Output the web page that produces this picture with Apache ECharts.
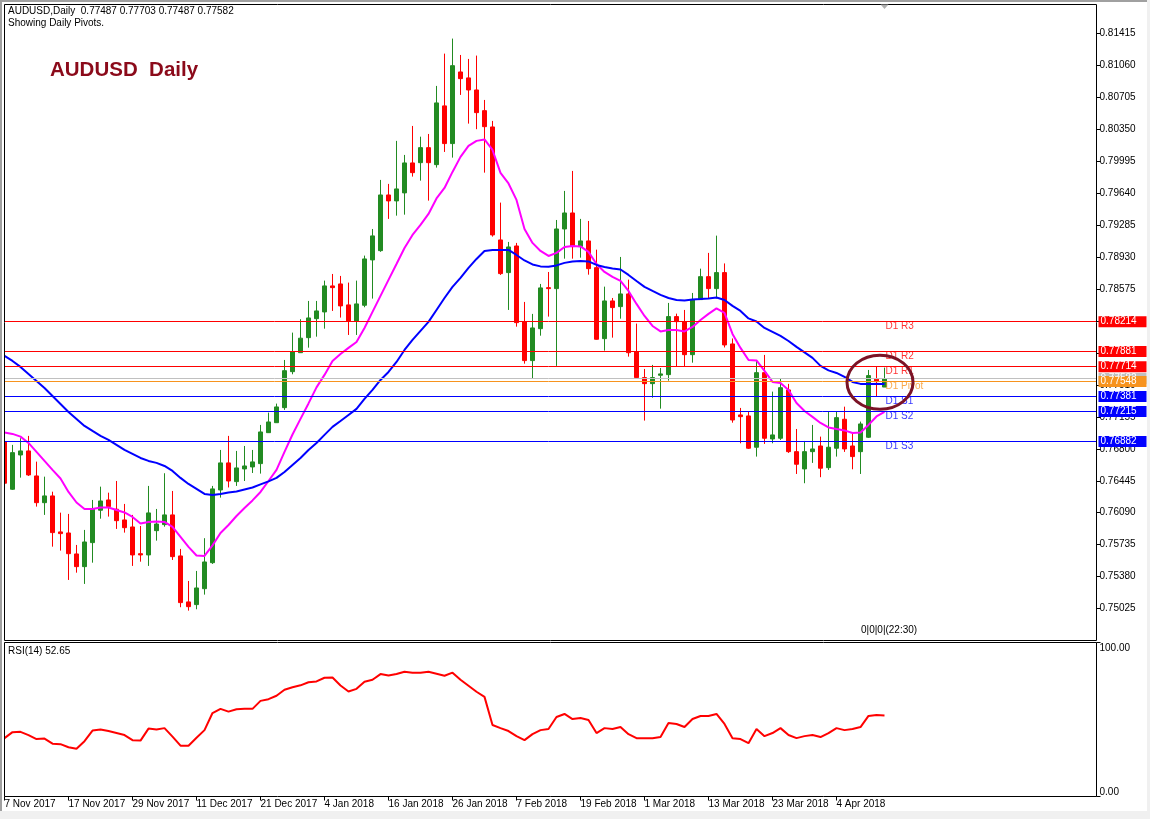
<!DOCTYPE html>
<html><head><meta charset="utf-8">
<script src="https://cdn.jsdelivr.net/npm/echarts/dist/echarts.min.js"></script>
<style>html,body{margin:0;padding:0;background:#fff;overflow:hidden}#c{width:1150px;height:819px}</style>
</head><body><div id="c"></div>
<script>
// ---------------- DATA ----------------
const dates = ["7 Nov 2017","8 Nov 2017","9 Nov 2017","10 Nov 2017","13 Nov 2017","14 Nov 2017","15 Nov 2017","16 Nov 2017","17 Nov 2017","20 Nov 2017","21 Nov 2017","22 Nov 2017","23 Nov 2017","24 Nov 2017","27 Nov 2017","28 Nov 2017","29 Nov 2017","30 Nov 2017","1 Dec 2017","4 Dec 2017","5 Dec 2017","6 Dec 2017","7 Dec 2017","8 Dec 2017","11 Dec 2017","12 Dec 2017","13 Dec 2017","14 Dec 2017","15 Dec 2017","18 Dec 2017","19 Dec 2017","20 Dec 2017","21 Dec 2017","22 Dec 2017","26 Dec 2017","27 Dec 2017","28 Dec 2017","29 Dec 2017","2 Jan 2018","3 Jan 2018","4 Jan 2018","5 Jan 2018","8 Jan 2018","9 Jan 2018","10 Jan 2018","11 Jan 2018","12 Jan 2018","15 Jan 2018","16 Jan 2018","17 Jan 2018","18 Jan 2018","19 Jan 2018","22 Jan 2018","23 Jan 2018","24 Jan 2018","25 Jan 2018","26 Jan 2018","29 Jan 2018","30 Jan 2018","31 Jan 2018","1 Feb 2018","2 Feb 2018","5 Feb 2018","6 Feb 2018","7 Feb 2018","8 Feb 2018","9 Feb 2018","12 Feb 2018","13 Feb 2018","14 Feb 2018","15 Feb 2018","16 Feb 2018","19 Feb 2018","20 Feb 2018","21 Feb 2018","22 Feb 2018","23 Feb 2018","26 Feb 2018","27 Feb 2018","28 Feb 2018","1 Mar 2018","2 Mar 2018","5 Mar 2018","6 Mar 2018","7 Mar 2018","8 Mar 2018","9 Mar 2018","12 Mar 2018","13 Mar 2018","14 Mar 2018","15 Mar 2018","16 Mar 2018","19 Mar 2018","20 Mar 2018","21 Mar 2018","22 Mar 2018","23 Mar 2018","26 Mar 2018","27 Mar 2018","28 Mar 2018","29 Mar 2018","30 Mar 2018","2 Apr 2018","3 Apr 2018","4 Apr 2018","5 Apr 2018","6 Apr 2018","9 Apr 2018","10 Apr 2018","11 Apr 2018","12 Apr 2018"];

const openP = [0.76880,0.76351,0.76732,0.76777,0.76499,0.76202,0.76277,0.75877,0.75865,0.75632,
0.75491,0.75758,0.76118,0.76232,0.76129,0.76010,0.75932,0.75635,0.75621,0.75891,
0.75958,0.76066,0.75610,0.75099,0.75069,0.75246,0.75535,0.76343,0.76644,0.76436,
0.76577,0.76599,0.76636,0.76980,0.77091,0.77258,0.77658,0.77869,0.78036,0.78247,
0.78322,0.78611,0.78633,0.78400,0.78222,0.78396,0.78900,0.79003,0.79622,0.79556,
0.79645,0.79978,0.79981,0.80148,0.79959,0.80612,0.80193,0.80989,0.80923,0.80789,
0.80559,0.80378,0.79122,0.78759,0.79055,0.78214,0.77781,0.78136,0.78592,0.78581,
0.79244,0.79422,0.79048,0.79111,0.78814,0.78025,0.78444,0.78381,0.78522,0.77881,
0.77592,0.77525,0.77618,0.77625,0.78270,0.78214,0.77847,0.78459,0.78714,0.78581,
0.78759,0.77966,0.77177,0.77166,0.76818,0.77647,0.76910,0.76918,0.77455,0.76769,
0.76577,0.76769,0.76832,0.76591,0.76807,0.77129,0.76832,0.76769,0.76929,0.77575,
0.77487];
const highP = [0.76899,0.76844,0.76918,0.76944,0.76658,0.76491,0.76324,0.76091,0.76077,0.75732,
0.75899,0.76232,0.76380,0.76313,0.76443,0.76188,0.76066,0.75943,0.76388,0.76132,
0.76529,0.76332,0.75688,0.75332,0.75443,0.75807,0.76388,0.76788,0.76944,0.76777,
0.76832,0.76788,0.77066,0.77203,0.77303,0.77788,0.78092,0.78241,0.78444,0.78444,
0.78670,0.78744,0.78722,0.78648,0.78670,0.78948,0.79244,0.79789,0.79745,0.80223,
0.80067,0.80389,0.80270,0.80300,0.80834,0.81193,0.81360,0.81178,0.81134,0.81171,
0.80678,0.80445,0.79537,0.79100,0.79089,0.78433,0.78300,0.78633,0.78766,0.79344,
0.79667,0.79889,0.79356,0.79333,0.79014,0.78603,0.78477,0.78933,0.78681,0.78192,
0.77688,0.77733,0.77699,0.78422,0.78303,0.78344,0.78533,0.78803,0.78978,0.79170,
0.78861,0.78027,0.77255,0.77214,0.77788,0.77844,0.77436,0.77585,0.77522,0.77021,
0.76888,0.77066,0.76936,0.77214,0.77214,0.77269,0.76974,0.77103,0.77677,0.77715,
0.77703];
const lowP = [0.76410,0.76343,0.76480,0.76499,0.76158,0.76066,0.75713,0.75669,0.75343,0.75424,
0.75299,0.75535,0.76024,0.76047,0.75910,0.75869,0.75499,0.75546,0.75499,0.75780,
0.75935,0.75565,0.75040,0.75002,0.75017,0.75180,0.75521,0.76258,0.76371,0.76388,
0.76443,0.76532,0.76525,0.76977,0.77088,0.77233,0.77629,0.77866,0.77925,0.78047,
0.78136,0.78333,0.78259,0.78066,0.78066,0.78374,0.78470,0.78990,0.79356,0.79392,
0.79403,0.79826,0.79781,0.79559,0.79926,0.80100,0.80037,0.80734,0.80415,0.80353,
0.79870,0.79159,0.78733,0.78344,0.78158,0.77747,0.77580,0.78058,0.78270,0.77722,
0.78914,0.78914,0.78925,0.78736,0.78014,0.77892,0.78036,0.78247,0.77825,0.77588,
0.77114,0.77369,0.77247,0.77558,0.77714,0.77714,0.77758,0.78455,0.78477,0.78472,
0.77927,0.77091,0.76862,0.76799,0.76714,0.76855,0.76862,0.76899,0.76755,0.76521,
0.76418,0.76644,0.76485,0.76566,0.76714,0.76766,0.76573,0.76521,0.76921,0.77382,
0.77487];
const closeP = [0.76418,0.76758,0.76777,0.76510,0.76202,0.76277,0.75869,0.75858,0.75635,0.75491,
0.75765,0.76129,0.76221,0.76158,0.76002,0.75924,0.75621,0.75621,0.76088,0.75965,
0.76066,0.75602,0.75091,0.75046,0.75254,0.75543,0.76355,0.76644,0.76443,0.76588,
0.76610,0.76655,0.76988,0.77099,0.77266,0.77669,0.77881,0.78030,0.78255,0.78333,
0.78611,0.78592,0.78389,0.78222,0.78411,0.78911,0.79167,0.79622,0.79556,0.79689,
0.79978,0.79870,0.80148,0.79981,0.80645,0.80193,0.81059,0.80915,0.80789,0.80537,
0.80381,0.79178,0.78748,0.79044,0.78203,0.77781,0.78144,0.78589,0.78581,0.79244,
0.79422,0.79048,0.79111,0.78803,0.78018,0.78444,0.78370,0.78522,0.77869,0.77592,
0.77525,0.77592,0.77633,0.78270,0.78214,0.77847,0.78459,0.78714,0.78581,0.78759,
0.77955,0.77121,0.77158,0.76807,0.77647,0.76918,0.76955,0.77480,0.76769,0.76629,
0.76769,0.76799,0.76585,0.76818,0.77147,0.76799,0.76714,0.77077,0.77614,0.77547,
0.77582];

// fast MA (magenta) and slow MA (blue)
const maFast = [0.76982,0.76966,0.76936,0.76866,0.76766,0.76666,0.76566,0.76471,0.76321,0.76204,
0.76132,0.76132,0.76149,0.76149,0.76121,0.76093,0.76043,0.75971,0.75988,0.75993,
0.75988,0.75932,0.75821,0.75710,0.75615,0.75610,0.75727,0.75865,0.75954,0.76054,
0.76143,0.76227,0.76321,0.76443,0.76566,0.76766,0.76960,0.77133,0.77305,0.77483,
0.77622,0.77777,0.77855,0.77922,0.77988,0.78144,0.78322,0.78500,0.78678,0.78855,
0.79033,0.79178,0.79289,0.79411,0.79583,0.79700,0.79878,0.80045,0.80167,0.80223,
0.80239,0.80122,0.79867,0.79750,0.79567,0.79244,0.79089,0.79000,0.78944,0.78978,
0.79044,0.79055,0.79050,0.78989,0.78855,0.78766,0.78711,0.78666,0.78555,0.78411,
0.78277,0.78166,0.78105,0.78122,0.78122,0.78105,0.78155,0.78233,0.78300,0.78361,
0.78311,0.78077,0.77922,0.77788,0.77783,0.77666,0.77544,0.77533,0.77455,0.77310,
0.77221,0.77155,0.77088,0.77038,0.77021,0.77005,0.76977,0.76982,0.77066,0.77160,
0.77210];
const maSlow = [0.77833,0.77777,0.77711,0.77633,0.77555,0.77477,0.77388,0.77299,0.77210,0.77133,
0.77055,0.76999,0.76944,0.76899,0.76844,0.76788,0.76744,0.76699,0.76666,0.76644,
0.76610,0.76555,0.76477,0.76410,0.76355,0.76299,0.76288,0.76299,0.76316,0.76327,
0.76349,0.76371,0.76405,0.76438,0.76477,0.76543,0.76621,0.76699,0.76788,0.76866,
0.76955,0.77044,0.77110,0.77177,0.77244,0.77355,0.77455,0.77566,0.77655,0.77766,
0.77899,0.78011,0.78111,0.78211,0.78344,0.78477,0.78600,0.78700,0.78811,0.78911,
0.79000,0.79011,0.79011,0.79011,0.78955,0.78894,0.78850,0.78828,0.78825,0.78839,
0.78867,0.78883,0.78889,0.78883,0.78844,0.78822,0.78805,0.78794,0.78733,0.78666,
0.78600,0.78555,0.78511,0.78477,0.78455,0.78450,0.78461,0.78466,0.78472,0.78483,
0.78455,0.78389,0.78333,0.78250,0.78216,0.78144,0.78100,0.78055,0.77999,0.77933,
0.77872,0.77811,0.77722,0.77672,0.77644,0.77599,0.77544,0.77522,0.77522,0.77522,
0.77522];

const rsi = [37.9,41.8,42.0,39.9,37.3,37.6,34.3,34.0,32.0,31.0,
35.9,42.8,43.5,42.5,41.2,39.9,36.6,36.3,44.1,43.5,
44.4,38.9,33.0,33.0,38.2,43.1,54.2,56.9,55.1,56.7,
56.9,56.9,62.1,63.2,65.4,69.3,70.9,72.2,74.2,74.7,
77.1,77.3,72.1,68.2,69.9,74.5,75.8,79.5,78.6,79.5,
81.0,80.4,80.4,81.0,79.7,78.4,80.4,75.8,71.9,68.0,
64.7,46.4,44.4,42.5,39.2,36.6,40.5,43.1,43.8,51.6,
53.6,50.3,51.0,49.7,41.2,44.4,43.8,45.1,40.5,37.9,
37.9,37.9,38.6,47.7,47.1,45.1,50.3,52.3,52.3,53.6,
47.1,37.9,37.3,34.6,43.8,39.2,41.2,44.4,39.9,37.9,
39.2,39.9,38.6,41.2,44.4,43.1,43.8,45.1,52.3,52.9,
52.65];

const pivotNames  = ["D1 R3","D1 R2","D1 R1","D1 Pivot","D1 S1","D1 S2","D1 S3"];
const pivotValues = [0.78214,0.77881,0.77714,0.77548,0.77381,0.77215,0.76882];
const priceTickStart = 0.74670, priceTickStep = 0.00355;

// ---------------- LAYOUT / STYLE ----------------
const FONT = "'Liberation Sans', Arial, sans-serif";
const NB = openP.length;
const SHIFT = 26;                       // empty bars on the right (chart shift)
const cats = dates.concat(new Array(SHIFT).fill(''));
const BAND = 8;
const G0 = {left:0.5, top:4.5, height:636};
const G1 = {left:0.5, top:642.5, height:154};
const GW = (NB + SHIFT) * BAND;
const PX_PRICE = priceTickStep / 31.94;
const yMin = priceTickStart, yMax = priceTickStart + G0.height * PX_PRICE;
const pivotColors = ['#ff0000','#ff0000','#ff0000','#f7931e','#0000ff','#0000ff','#0000ff'];
const GREEN = '#228b22', RED = '#ff0000';

const showIdx = (idx) => idx < NB && idx % 8 === 0;

const chart = echarts.init(document.getElementById('c'), null, {renderer:'canvas', width:1150, height:819});

const candleData = openP.map((o, i) => [o, closeP[i], lowP[i], highP[i]]);
const lastClose = closeP[NB - 1];

const mlData = [{yAxis: lastClose, lineStyle:{color:'#c0c0c0', width:1, type:'solid'},
                 label:{backgroundColor:'#c0c0c0'}}]
  .concat(pivotValues.map((v, i) => ({yAxis: v,
      lineStyle:{color: pivotColors[i], width:1, type:'solid'},
      label:{backgroundColor: pivotColors[i]}})));

const option = {
  animation: false,
  backgroundColor: '#ffffff',
  grid: [
    {left:G0.left, top:G0.top, width:GW, height:G0.height, show:false, containLabel:false, outerBoundsMode:'none'},
    {left:G1.left, top:G1.top, width:GW, height:G1.height, show:false, containLabel:false, outerBoundsMode:'none'}
  ],
  xAxis: [
    {type:'category', gridIndex:0, data:cats, boundaryGap:true, show:false},
    {type:'category', gridIndex:1, data:cats, boundaryGap:true,
     axisLine:{show:false},
     axisTick:{show:true, alignWithLabel:true, interval:showIdx, length:4, lineStyle:{color:'#000', width:1}},
     axisLabel:{show:true, interval:showIdx, align:'left', margin:3, fontSize:10, fontFamily:FONT, color:'#000'},
     splitLine:{show:false}}
  ],
  yAxis: [
    {type:'value', gridIndex:0, position:'right', min:yMin, max:yMax, interval:priceTickStep,
     axisLine:{show:false}, splitLine:{show:false},
     axisTick:{show:true, length:4, lineStyle:{color:'#000'}},
     axisLabel:{formatter:(v) => v.toFixed(5), showMinLabel:false, showMaxLabel:false, margin:3, fontSize:10, fontFamily:FONT, color:'#000'}},
    {type:'value', gridIndex:1, position:'right', min:0, max:100, interval:100,
     axisLine:{show:false}, splitLine:{show:false},
     axisTick:{show:true, length:4, lineStyle:{color:'#000'}},
     axisLabel:{margin:3, fontSize:10, fontFamily:FONT, color:'#000',
       formatter:(v) => v >= 100 ? '{t|' + v.toFixed(2) + '}' : '{b|' + v.toFixed(2) + '}',
       rich:{t:{padding:[12,0,0,0], fontSize:10, fontFamily:FONT, color:'#000'},
             b:{padding:[0,0,9,0], fontSize:10, fontFamily:FONT, color:'#000'}}}}
  ],
  series: [
    {type:'candlestick', xAxisIndex:0, yAxisIndex:0, data:candleData, barWidth:4, z:2,
     itemStyle:{color:GREEN, color0:RED, borderColor:GREEN, borderColor0:RED, borderWidth:1},
     markLine:{silent:true, symbol:['none','none'], animation:false, precision:5,
       label:{show:true, position:'end', distance:2, formatter:(p) => Number(p.value).toFixed(5),
              color:'#fff', fontSize:10, fontFamily:FONT, padding:[1,2,0,2], width:44, lineHeight:10, align:'left'},
       data: mlData}},
    {type:'line', xAxisIndex:0, yAxisIndex:0, data:maFast, showSymbol:false, z:3,
     lineStyle:{color:'#ff00ff', width:2}},
    {type:'line', xAxisIndex:0, yAxisIndex:0, data:maSlow, showSymbol:false, z:3,
     lineStyle:{color:'#0000ff', width:2}},
    {type:'scatter', xAxisIndex:0, yAxisIndex:0, symbolSize:0, z:4,
     data: pivotValues.map((v, i) => ({value:[NB - 1, v], label:{color:pivotColors[i]}})),
     label:{show:true, position:'right', distance:1, offset:[0,5], fontSize:10, fontFamily:FONT,
            formatter:(p) => pivotNames[p.dataIndex]}},
    {type:'line', xAxisIndex:1, yAxisIndex:1, data:rsi, showSymbol:false, z:3,
     lineStyle:{color:'#ff0000', width:2}}
  ]
};
chart.setOption(option);

// ---- frame, texts, annotation (positions from the chart's own scales) ----
const pPivot = chart.convertToPixel({xAxisIndex:0, yAxisIndex:0}, [NB - 2, pivotValues[3]]);
const pLast = chart.convertToPixel({xAxisIndex:0, yAxisIndex:0}, [NB - 1, lastClose]);
const right = G0.left + GW;
const hdr = 'AUDUSD,Daily  ' + [openP[NB-1], highP[NB-1], lowP[NB-1], closeP[NB-1]].map(v => v.toFixed(5)).join(' ');
chart.setOption({graphic: [
  {type:'rect', z:100, shape:{x:0, y:0, width:4, height:811}, style:{fill:'#fff'}},
  {type:'rect', z:101, shape:{x:0, y:0, width:2, height:811}, style:{fill:'#a0a0a0'}},
  {type:'rect', z:101, shape:{x:0, y:0, width:1150, height:2}, style:{fill:'#a0a0a0'}},
  {type:'rect', z:101, shape:{x:0, y:811, width:1150, height:8}, style:{fill:'#f0f0f0'}},
  {type:'rect', z:101, shape:{x:1147, y:0, width:3, height:819}, style:{fill:'#f0f0f0'}},
  {type:'rect', z:102, shape:{x:4.5, y:4.5, width:right - 4.5, height:636}, style:{fill:'none', stroke:'#000', lineWidth:1}},
  {type:'rect', z:102, shape:{x:4.5, y:642.5, width:right - 4.5, height:154}, style:{fill:'none', stroke:'#000', lineWidth:1}},
  {type:'text', z:103, x:8, y:6, style:{text:hdr, fontSize:10, fontFamily:FONT, fill:'#000'}},
  {type:'text', z:103, x:8, y:18, style:{text:'Showing Daily Pivots.', fontSize:10, fontFamily:FONT, fill:'#000'}},
  {type:'text', z:103, x:50, y:60, style:{text:'AUDUSD  Daily', fontSize:20.5, fontWeight:'bold', fontFamily:FONT, fill:'#8b0a1a'}},
  {type:'text', z:103, x:8, y:646, style:{text:'RSI(14) ' + rsi[NB-1].toFixed(2), fontSize:10, fontFamily:FONT, fill:'#000'}},
  {type:'text', z:103, x:861, y:625, style:{text:'0|0|0|(22:30)', fontSize:10, fontFamily:FONT, fill:'#000'}},
  {type:'polygon', z:103, shape:{points:[[pLast[0]-4, 4.5],[pLast[0]+4, 4.5],[pLast[0], 9]]}, style:{fill:'#b0b0b0'}},
  {type:'ellipse', z:103, shape:{cx:pPivot[0] + 3.5, cy:pPivot[1] + 0.7, rx:33, ry:27},
   style:{fill:'none', stroke:'#7b1326', lineWidth:3}}
]});
</script>
</body></html>
